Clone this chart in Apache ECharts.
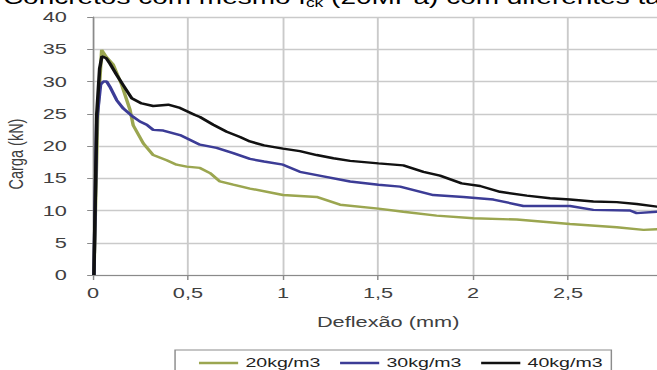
<!DOCTYPE html>
<html><head><meta charset="utf-8">
<script src="https://cdn.jsdelivr.net/npm/echarts@6/dist/echarts.min.js"></script>
<style>
html,body{margin:0;padding:0;overflow:hidden;background:#fff}
#wrap{width:657px;height:370px;overflow:hidden;position:relative}
#c{width:453px;height:370px;transform:scaleX(1.4503);transform-origin:0 0}
</style></head><body><div id="wrap"><div id="c"></div></div>
<script>
const seriesNames = ['20kg/m3', '30kg/m3', '40kg/m3'];
const seriesColors = ['#9ba650', '#3c3c96', '#111111'];

const x20 = [0.005, 0.025, 0.046, 0.07, 0.107, 0.151, 0.195, 0.212, 0.265, 0.317, 0.388, 0.44, 0.493, 0.563, 0.616, 0.668, 0.738, 0.826, 1.0, 1.177, 1.3, 1.502, 1.633, 1.808, 2.002, 2.23, 2.51, 2.756, 2.897, 2.968, 3.0];
const y20 = [0, 25, 34.9, 33.8, 32.6, 29.5, 25.6, 23.2, 20.4, 18.6, 17.8, 17.1, 16.8, 16.6, 15.8, 14.5, 14.0, 13.4, 12.4, 12.1, 10.9, 10.3, 9.8, 9.2, 8.8, 8.6, 7.9, 7.4, 7.0, 7.1, 7.0];

const x30 = [0.005, 0.02, 0.04, 0.055, 0.072, 0.089, 0.125, 0.16, 0.212, 0.247, 0.283, 0.317, 0.37, 0.458, 0.563, 0.651, 0.738, 0.826, 0.9, 1.0, 1.089, 1.212, 1.353, 1.502, 1.616, 1.791, 1.949, 2.107, 2.265, 2.51, 2.633, 2.826, 2.861, 2.968, 3.0];
const y30 = [0, 24, 29.5, 30.0, 30.0, 29.2, 27.1, 25.8, 24.5, 23.8, 23.3, 22.5, 22.4, 21.7, 20.2, 19.7, 18.9, 18.0, 17.6, 17.1, 16.0, 15.3, 14.5, 14.0, 13.7, 12.4, 12.1, 11.7, 10.7, 10.7, 10.1, 10.0, 9.6, 9.8, 9.7];

const x40 = [0.005, 0.02, 0.035, 0.047, 0.07, 0.089, 0.125, 0.16, 0.204, 0.256, 0.317, 0.396, 0.458, 0.537, 0.563, 0.633, 0.704, 0.774, 0.826, 0.9, 1.0, 1.089, 1.177, 1.265, 1.353, 1.502, 1.633, 1.739, 1.826, 1.94, 2.037, 2.142, 2.283, 2.405, 2.51, 2.633, 2.756, 2.861, 2.968, 3.0];
const y40 = [0, 25, 32, 33.9, 33.6, 32.8, 31.0, 29.4, 27.4, 26.6, 26.2, 26.4, 25.9, 24.8, 24.5, 23.3, 22.2, 21.4, 20.7, 20.1, 19.6, 19.2, 18.6, 18.1, 17.7, 17.3, 17.0, 16.0, 15.4, 14.2, 13.8, 12.9, 12.3, 11.9, 11.7, 11.4, 11.3, 11.0, 10.6, 10.5];

const xTicks = {min: 0, max: 3, interval: 0.5};
const yTicks = {min: 0, max: 40, interval: 5};

const xs = [x20, x30, x40];
const ys = [y20, y30, y40];

const chart = echarts.init(document.getElementById('c'), null, {renderer: 'svg'});
const labelColor = '#404040';
const ff = 'Liberation Sans, Arial, sans-serif';
chart.setOption({
  animation: false,
  backgroundColor: '#ffffff',
  title: {
    left: 2, top: -15, padding: 0,
    text: '{a|Concretos com mesmo f}{s|ck}{a| (20MPa) com diferentes taxas de fibras}',
    textStyle: {
      fontWeight: 'normal',
      rich: {
        a: {fontFamily: ff, fontWeight: 'normal', fontSize: 19.3, lineHeight: 24, color: '#000'},
        s: {fontFamily: ff, fontWeight: 'normal', fontSize: 12, lineHeight: 8, color: '#000', verticalAlign: 'bottom'}
      }
    }
  },
  legend: {
    data: seriesNames.map(n => ({name: n, icon: 'rect'})),
    left: 120.7, top: 350,
    padding: [6, 6, 10, 16.5],
    itemGap: 13.5, itemWidth: 27, itemHeight: 2.5,
    borderColor: '#8c8c8c', borderWidth: 1,
    textStyle: {fontFamily: ff, fontSize: 13.5, color: '#222'}
  },
  grid: {left: 64.1, top: 17, width: 393.1, height: 258, containLabel: false, outerBoundsMode: 'none'},
  xAxis: {
    type: 'value', min: xTicks.min, max: xTicks.max, interval: xTicks.interval,
    name: 'Deflexão (mm)', nameLocation: 'middle', nameGap: 39,
    nameTextStyle: {fontFamily: ff, fontSize: 15, color: labelColor, padding: [0, 0, 0, 14]},
    axisLine: {show: true, onZero: false, lineStyle: {color: '#8a8a8a', width: 1.2}},
    axisTick: {show: true, inside: false, length: 5, lineStyle: {color: '#8a8a8a', width: 1}},
    axisLabel: {margin: 10, fontFamily: ff, fontSize: 15, color: labelColor,
      formatter: v => String(v).replace('.', ',')},
    splitLine: {show: true, lineStyle: {color: '#cacaca', width: 1.3}}
  },
  yAxis: {
    type: 'value', min: yTicks.min, max: yTicks.max, interval: yTicks.interval,
    name: 'Carga (kN)', nameLocation: 'middle', nameGap: 38,
    nameTextStyle: {fontFamily: ff, fontSize: 14.5, color: labelColor, padding: [0, 16, 0, 0]},
    axisLine: {show: true, lineStyle: {color: '#8a8a8a', width: 1}},
    axisTick: {show: true, inside: false, length: 4, lineStyle: {color: '#8a8a8a', width: 1}},
    axisLabel: {margin: 18, fontFamily: ff, fontSize: 15, color: labelColor},
    splitLine: {show: true, lineStyle: {color: '#cacaca', width: 1.3}}
  },
  series: seriesNames.map((n, i) => ({
    name: n, type: 'line', showSymbol: false, symbol: 'none', smooth: false,
    color: seriesColors[i],
    lineStyle: {color: seriesColors[i], width: 2.4},
    data: xs[i].map((x, j) => [x, ys[i][j]])
  }))
});
</script></body></html>
